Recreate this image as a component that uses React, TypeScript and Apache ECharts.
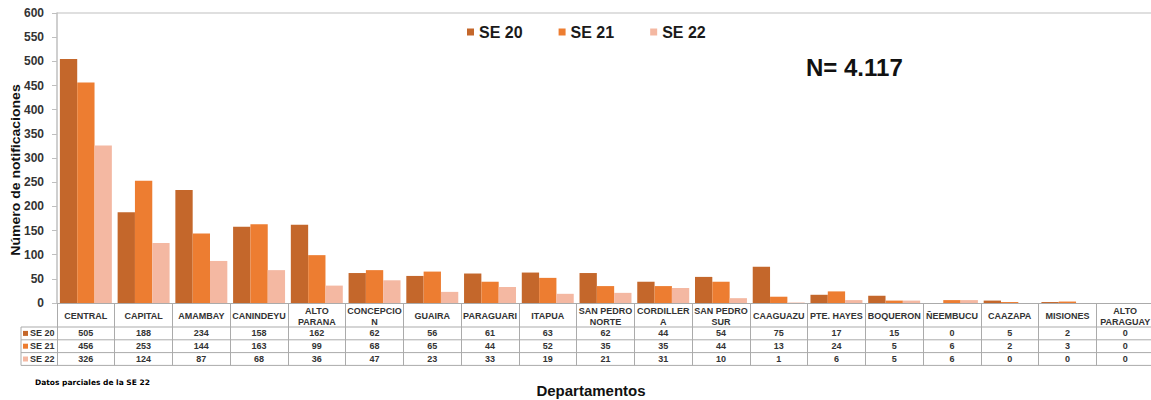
import React, { useEffect, useRef } from "react";
import * as echarts from "echarts";

// ---- data ----
const categories = [
  "CENTRAL", "CAPITAL", "AMAMBAY", "CANINDEYU", "ALTO\nPARANA", "CONCEPCIO\nN",
  "GUAIRA", "PARAGUARI", "ITAPUA", "SAN PEDRO\nNORTE", "CORDILLER\nA", "SAN PEDRO\nSUR",
  "CAAGUAZU", "PTE. HAYES", "BOQUERON", "ÑEEMBUCU", "CAAZAPA", "MISIONES", "ALTO\nPARAGUAY",
];
const se20 = [505, 188, 234, 158, 162, 62, 56, 61, 63, 62, 44, 54, 75, 17, 15, 0, 5, 2, 0];
const se21 = [456, 253, 144, 163, 99, 68, 65, 44, 52, 35, 35, 44, 13, 24, 5, 6, 2, 3, 0];
const se22 = [326, 124, 87, 68, 36, 47, 23, 33, 19, 21, 31, 10, 1, 6, 5, 6, 0, 0, 0];
const seriesNames = ["SE 20", "SE 21", "SE 22"];
const seriesColors = ["#C4672B", "#ED7D31", "#F4B8A2"];
const yMin = 0;
const yMax = 600;
const yStep = 50;
const totalLabel = "N= 4.117";
const noteLabel = "Datos parciales de la SE 22";
const xTitle = "Departamentos";
const yTitle = "Número de notificaciones";

const FONT = "'Liberation Sans', Arial, sans-serif";
const TXT = "#333333";
const LINE = "#ABABAB";

export default function App() {
  const ref = useRef<HTMLDivElement>(null);

  useEffect(() => {
    document.body.style.margin = "0";
    if (!ref.current) return;
    const chart = echarts.init(ref.current, undefined, { renderer: "svg" });

    const W = 1151;
    const gridLeft = 57;
    const gridTop = 13;
    const axisY = 303;
    const rowH = 12.8;
    const headerBottom = 327;
    const tableLeft = 21;
    const allSeries = [se20, se21, se22];

    const rowLines: any[] = [];
    for (let r = 0; r <= 3; r++) {
      const y = headerBottom + r * rowH;
      rowLines.push({
        type: "line",
        shape: { x1: tableLeft, y1: y, x2: W, y2: y },
        style: { stroke: LINE, lineWidth: 1 },
        silent: true,
      });
    }
    rowLines.push({
      type: "line",
      shape: { x1: tableLeft, y1: headerBottom, x2: tableLeft, y2: headerBottom + 3 * rowH },
      style: { stroke: LINE, lineWidth: 1 },
      silent: true,
    });
    const rowLabels: any[] = [];
    seriesNames.forEach((n, r) => {
      const cy = headerBottom + (r + 0.5) * rowH;
      rowLabels.push({
        type: "rect",
        shape: { x: 23, y: cy - 2.5, width: 5, height: 5 },
        style: { fill: seriesColors[r] },
        silent: true,
      });
      rowLabels.push({
        type: "text",
        x: 30,
        y: cy,
        style: {
          text: n,
          fontSize: 9,
          fontWeight: "bold",
          fontFamily: FONT,
          fill: TXT,
          verticalAlign: "middle",
          align: "left",
        },
        silent: true,
      });
    });

    const valueAxes = allSeries.map((vals, r) => ({
      type: "category",
      gridIndex: 0,
      position: "bottom",
      data: vals.map((v) => String(v)),
      axisLine: { show: false },
      axisTick: { show: false },
      splitLine: { show: false },
      axisLabel: {
        interval: 0,
        margin: headerBottom - axisY + (r + 0.5) * rowH,
        verticalAlign: "middle",
        fontSize: 9,
        fontWeight: "bold",
        fontFamily: FONT,
        color: TXT,
      },
    }));

    chart.setOption({
      animation: false,
      textStyle: { fontFamily: FONT },
      grid: {
        left: gridLeft,
        right: -3,
        top: gridTop,
        bottom: 400 - axisY,
        containLabel: false,
        outerBoundsMode: "none",
      },
      legend: {
        left: 467,
        top: 24,
        padding: 0,
        itemWidth: 7,
        itemHeight: 7,
        itemGap: 36,
        icon: "rect",
        textStyle: { fontSize: 16, fontWeight: "bold", color: "#1A1A1A", fontFamily: FONT },
        data: seriesNames,
      },
      xAxis: [
        {
          type: "category",
          data: categories,
          position: "bottom",
          axisLine: { show: true, lineStyle: { color: LINE, width: 1 } },
          axisTick: { show: true, length: headerBottom - axisY + 3 * rowH, lineStyle: { color: LINE, width: 1 } },
          axisLabel: {
            interval: 0,
            margin: 13,
            verticalAlign: "middle",
            fontSize: 9,
            lineHeight: 11,
            fontWeight: "bold",
            fontFamily: FONT,
            color: TXT,
          },
          splitLine: { show: false },
        },
        ...valueAxes,
      ],
      yAxis: {
        type: "value",
        min: yMin,
        max: yMax,
        interval: yStep,
        axisLine: { show: true, lineStyle: { color: "#BFBFBF", width: 1.5 } },
        axisTick: { show: true, length: 5, lineStyle: { color: "#BFBFBF" } },
        axisLabel: { margin: 13, fontSize: 12, fontWeight: "bold", color: TXT, fontFamily: FONT },
        splitLine: { show: false },
      },
      series: allSeries.map((vals, i) => ({
        name: seriesNames[i],
        type: "bar",
        xAxisIndex: 0,
        data: vals,
        barGap: "0%",
        barCategoryGap: "10%",
        itemStyle: { color: seriesColors[i] },
      })),
      graphic: [
        {
          type: "line",
          shape: { x1: gridLeft, y1: gridTop, x2: W, y2: gridTop },
          style: { stroke: "#D4D4D4", lineWidth: 1.5 },
          silent: true,
        },
        ...rowLines,
        ...rowLabels,
        {
          type: "text",
          x: 15,
          y: 170,
          rotation: Math.PI / 2,
          scaleX: 1.08,
          scaleY: 1.05,
          style: {
            text: yTitle,
            fontSize: 13,
            fontWeight: "bold",
            fontFamily: FONT,
            fill: "#111",
            verticalAlign: "middle",
            align: "center",
          },
          silent: true,
        },
        {
          type: "text",
          x: 806,
          y: 67,
          style: {
            text: totalLabel,
            fontSize: 24,
            fontWeight: "bold",
            fontFamily: FONT,
            fill: "#111",
            verticalAlign: "middle",
            align: "left",
          },
          silent: true,
        },
        {
          type: "text",
          x: 35,
          y: 382,
          style: {
            text: noteLabel,
            fontSize: 7.5,
            fontWeight: "bold",
            fontFamily: "'DejaVu Sans', Verdana, sans-serif",
            fill: "#000",
            verticalAlign: "middle",
            align: "left",
          },
          silent: true,
        },
        {
          type: "text",
          x: 591,
          y: 390,
          style: {
            text: xTitle,
            fontSize: 15,
            fontWeight: "bold",
            fontFamily: FONT,
            fill: "#111",
            verticalAlign: "middle",
            align: "center",
          },
          silent: true,
        },
      ],
    });

    return () => chart.dispose();
  }, []);

  return <div ref={ref} style={{ width: 1151, height: 400 }} />;
}
